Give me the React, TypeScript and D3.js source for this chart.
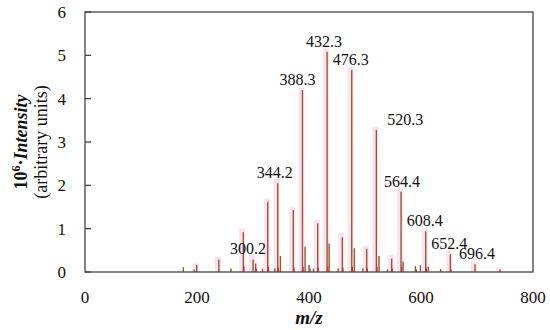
import React, { useEffect, useRef } from 'react'
import * as d3 from 'd3'

// main spectrum (m/z, intensity x10^6)
const peakMz = [175.6, 195, 199.4, 239, 260.7, 282.7, 300.2, 304.8, 317, 326.3, 339, 344.2, 349, 372, 388.3, 393, 400, 408, 415.5, 432.3, 436, 452, 459.5, 476.3, 481, 496, 503, 520.3, 525, 540, 547.6, 564.4, 568, 590, 599, 608.4, 613, 635, 652.4, 696.4, 741]
const peakInt = [0.11, 0.05, 0.16, 0.29, 0.08, 0.92, 0.29, 0.2, 0.08, 1.62, 0.08, 2.05, 0.37, 1.43, 4.2, 0.58, 0.16, 0.08, 1.12, 5.08, 0.66, 0.08, 0.8, 4.66, 0.55, 0.08, 0.53, 3.28, 0.37, 0.06, 0.31, 1.85, 0.24, 0.14, 0.16, 0.94, 0.12, 0.07, 0.41, 0.18, 0.06]

// small red lines at the foot of peaks
const redMz = [283.8, 306, 327.5, 345.5, 373.2, 389.5, 402, 416.7, 433.5, 460.7, 477.5, 504.2, 521.5, 548.8, 565.6, 592, 609.6, 653.6]
const redInt = [0.14, 0.08, 0.12, 0.1, 0.1, 0.12, 0.08, 0.1, 0.14, 0.1, 0.12, 0.08, 0.12, 0.08, 0.12, 0.06, 0.1, 0.06]

// pale pink bands behind the peaks
const bandMz = [199.4, 239, 282.7, 300.2, 326.3, 344.2, 372, 388.3, 415.5, 432.3, 459.5, 476.3, 503, 520.3, 547.6, 564.4, 608.4, 652.4, 696.4, 741]
const bandInt = [0.2, 0.35, 1.0, 0.4, 1.7, 2.15, 1.5, 4.25, 1.2, 5.15, 0.9, 4.72, 0.6, 3.35, 0.4, 1.92, 1.0, 0.5, 0.25, 0.12]

// labelled peaks
const labelMz = [300.2, 344.2, 388.3, 432.3, 476.3, 520.3, 564.4, 608.4, 652.4, 696.4]
const labelInt = [0.29, 2.05, 4.2, 5.08, 4.66, 3.28, 1.85, 0.94, 0.41, 0.18]
const labelDx = [-5, -3, -5, -3, -1, 29, 1, -1, -1, 2]

const xTicks = [0, 200, 400, 600, 800]
const yTicks = [0, 1, 2, 3, 4, 5, 6]

const W = 550
const H = 330
const margin = { top: 12, right: 17, bottom: 58, left: 85 }
const serif = "'Liberation Serif', 'Times New Roman', 'DejaVu Serif', serif"

function Spectrum() {
  const ref = useRef<SVGSVGElement>(null)

  useEffect(() => {
    const svg = d3.select(ref.current)
    svg.selectAll('*').remove()
    const x = d3.scaleLinear().domain([0, 800]).range([margin.left, W - margin.right])
    const y = d3.scaleLinear().domain([0, 6]).range([H - margin.bottom, margin.top])

    // pink bands
    svg.append('g').selectAll('rect').data(bandMz).enter().append('rect')
      .attr('x', d => x(d) - 4)
      .attr('width', 6)
      .attr('y', (d, i) => y(bandInt[i]))
      .attr('height', (d, i) => y(0) - y(bandInt[i]))
      .attr('fill', '#fbe2f1')

    // brown peaks
    svg.append('g').selectAll('line').data(peakMz).enter().append('line')
      .attr('x1', d => x(d)).attr('x2', d => x(d))
      .attr('y1', y(0))
      .attr('y2', (d, i) => y(peakInt[i]))
      .attr('stroke', '#955a30')
      .attr('stroke-width', 1.4)

    // red feet
    svg.append('g').selectAll('line').data(redMz).enter().append('line')
      .attr('x1', d => x(d)).attr('x2', d => x(d))
      .attr('y1', y(0))
      .attr('y2', (d, i) => y(redInt[i]))
      .attr('stroke', '#e8202a')
      .attr('stroke-width', 1.2)

    // frame
    svg.append('rect')
      .attr('x', x(0)).attr('y', y(6))
      .attr('width', x(800) - x(0)).attr('height', y(0) - y(6))
      .attr('fill', 'none').attr('stroke', '#444').attr('stroke-width', 1.3)

    // y axis ticks inward
    svg.append('g').selectAll('line').data(yTicks).enter().append('line')
      .attr('x1', x(0)).attr('x2', x(0) + 6)
      .attr('y1', d => y(d)).attr('y2', d => y(d))
      .attr('stroke', '#444').attr('stroke-width', 1.3)

    svg.append('g').selectAll('text').data(yTicks).enter().append('text')
      .attr('x', x(0) - 19)
      .attr('y', d => y(d) + 6)
      .attr('text-anchor', 'end')
      .style('font-family', serif).style('font-size', '17px')
      .attr('fill', '#111')
      .text(d => d)

    svg.append('g').selectAll('text').data(xTicks).enter().append('text')
      .attr('x', d => x(d))
      .attr('y', H - 27)
      .attr('text-anchor', 'middle')
      .style('font-family', serif).style('font-size', '17px')
      .attr('fill', '#111')
      .text(d => d)

    // peak labels
    svg.append('g').selectAll('text').data(labelMz).enter().append('text')
      .attr('x', (d, i) => x(d) + labelDx[i])
      .attr('y', (d, i) => y(labelInt[i]) - 5)
      .attr('text-anchor', 'middle')
      .style('font-family', serif).style('font-size', '16px')
      .attr('fill', '#111')
      .text(d => d.toFixed(1))

    // axis titles
    svg.append('text')
      .attr('x', x(400)).attr('y', H - 6)
      .attr('text-anchor', 'middle')
      .style('font-family', serif).style('font-size', '19px')
      .style('font-style', 'italic').style('font-weight', 'bold')
      .attr('fill', '#111')
      .text('m/z')

    const yt = svg.append('text')
      .attr('transform', `translate(27,${(y(0) + y(6)) / 2}) rotate(-90)`)
      .attr('text-anchor', 'middle')
      .style('font-family', serif).style('font-size', '18px').style('font-weight', 'bold')
      .attr('fill', '#111')
    yt.append('tspan').text('10')
    yt.append('tspan').attr('dy', -7).style('font-size', '12px').text('6')
    yt.append('tspan').attr('dy', 7).text('·')
    yt.append('tspan').style('font-style', 'italic').text('Intensity')

    svg.append('text')
      .attr('transform', `translate(47,${(y(0) + y(6)) / 2}) rotate(-90)`)
      .attr('text-anchor', 'middle')
      .style('font-family', serif).style('font-size', '18px')
      .attr('fill', '#111')
      .text('(arbitrary units)')
  }, [])

  return <svg ref={ref} width={W} height={H} style={{ display: 'block' }} />
}

export default function App() {
  return (
    <div style={{ position: 'absolute', left: 0, top: 0, background: '#fff' }}>
      <Spectrum />
    </div>
  )
}
